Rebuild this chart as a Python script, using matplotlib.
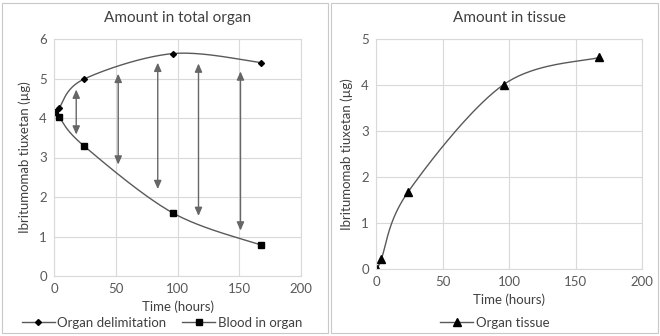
import numpy as np
import matplotlib
matplotlib.use("Agg")
import matplotlib.pyplot as plt
from matplotlib.patches import Rectangle

plt.rcParams['font.family'] = ['Lato', 'DejaVu Sans']

time_h = [1, 4, 24, 96, 168]
organ_delim = [4.15, 4.25, 4.98, 5.63, 5.40]
blood_organ = [4.15, 4.03, 3.30, 1.60, 0.78]
organ_tissue = [0.0, 0.22, 1.67, 4.01, 4.60]

arrow_x = [18, 52, 84, 117, 151]
arrow_top = [4.72, 5.12, 5.40, 5.38, 5.18]
arrow_bottom = [3.58, 2.82, 2.20, 1.52, 1.15]

GRID = '#d9d9d9'
TXT = '#404040'


def smooth(x, y, n=40):
    x = np.asarray(x, float); y = np.asarray(y, float)
    P = np.column_stack([x, y])
    P = np.vstack([P[0], P, P[-1]])
    out = []
    for i in range(1, len(P) - 2):
        p0, p1, p2, p3 = P[i - 1], P[i], P[i + 1], P[i + 2]
        t = np.linspace(0, 1, n)[:, None]
        seg = 0.5 * ((2 * p1) + (-p0 + p2) * t + (2 * p0 - 5 * p1 + 4 * p2 - p3) * t ** 2
                     + (-p0 + 3 * p1 - 3 * p2 + p3) * t ** 3)
        out.append(seg)
    S = np.vstack(out)
    return S[:, 0], S[:, 1]


def style(ax, ymax, title):
    ax.set_xlim(0, 200)
    ax.set_ylim(0, ymax)
    ax.set_xticks(range(0, 201, 50))
    ax.set_yticks(range(0, ymax + 1))
    ax.grid(True, color=GRID, lw=0.8)
    ax.set_axisbelow(True)
    for s in ax.spines.values():
        s.set_color(GRID)
        s.set_linewidth(0.8)
    ax.tick_params(length=0, labelsize=9.5, colors='#595959', pad=5)
    ax.set_title(title, fontsize=11, color=TXT, pad=12)
    ax.set_xlabel('Time (hours)', fontsize=9.5, color=TXT, labelpad=4)
    ax.set_ylabel('Ibritumomab tiuxetan (µg)', fontsize=9.5, color=TXT, labelpad=6)


fig = plt.figure(figsize=(6.6, 3.36), dpi=100)
fig.patches.append(Rectangle((2 / 660, 3 / 336), 326 / 660, 330 / 336, transform=fig.transFigure,
                             fill=False, ec='#c8c8c8', lw=0.8))
fig.patches.append(Rectangle((331 / 660, 3 / 336), 327 / 660, 330 / 336, transform=fig.transFigure,
                             fill=False, ec='#c8c8c8', lw=0.8))

ax1 = fig.add_axes([54 / 660, 1 - 276 / 336, 247 / 660, 237 / 336])
style(ax1, 6, 'Amount in total organ')
sx, sy = smooth(time_h, organ_delim)
ax1.plot(sx, sy, color='#595959', lw=1.0)
ax1.plot(time_h, organ_delim, 'D', color='black', ms=3)
sx, sy = smooth(time_h, blood_organ)
ax1.plot(sx, sy, color='#595959', lw=1.0)
ax1.plot(time_h, blood_organ, 's', color='black', ms=5)
for x, yt, yb in zip(arrow_x, arrow_top, arrow_bottom):
    ax1.annotate('', xy=(x, yt), xytext=(x, yb),
                 arrowprops=dict(arrowstyle='<|-|>,head_length=0.5,head_width=0.22',
                                 color='#666666', lw=1.0,
                                 mutation_scale=10, shrinkA=0, shrinkB=0))
h1, = ax1.plot([], [], color='#595959', lw=1.0, marker='D', mfc='black', mec='black', ms=3)
h2, = ax1.plot([], [], color='#595959', lw=1.0, marker='s', mfc='black', mec='black', ms=5)
fig.legend([h1, h2], ['Organ delimitation', 'Blood in organ'], loc='center',
           bbox_to_anchor=(162 / 660, 1 - 323 / 336), ncol=2, frameon=False, fontsize=9.5,
           handlelength=2.5, handletextpad=0.2, columnspacing=1.2, labelcolor=TXT)

ax2 = fig.add_axes([376 / 660, 1 - 269 / 336, 266 / 660, 230 / 336])
style(ax2, 5, 'Amount in tissue')
sx, sy = smooth(time_h, organ_tissue)
ax2.plot(sx, sy, color='#595959', lw=1.0)
ax2.plot(time_h, organ_tissue, '^', color='black', ms=6)
h3, = ax2.plot([], [], color='#595959', lw=1.0, marker='^', mfc='black', mec='black', ms=6)
fig.legend([h3], ['Organ tissue'], loc='center', bbox_to_anchor=(495 / 660, 1 - 323 / 336),
           frameon=False, fontsize=9.5, handlelength=2.5, handletextpad=0.2, labelcolor=TXT)

fig.savefig('out.png', dpi=100)
